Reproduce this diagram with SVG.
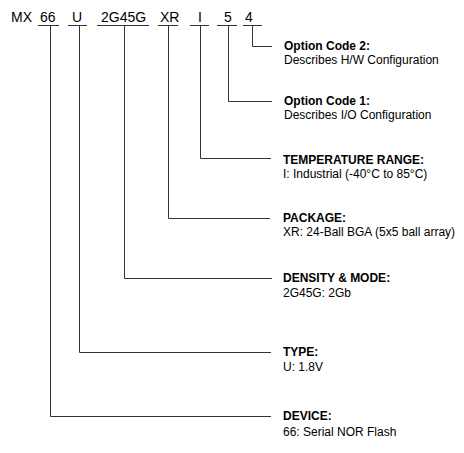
<svg xmlns="http://www.w3.org/2000/svg" width="464" height="453" viewBox="0 0 464 453">
<style>
.code{font-family:"Liberation Sans",Arial,sans-serif;font-size:14px;fill:#000}
.t{font-family:"Liberation Sans",Arial,sans-serif;font-size:12px;font-weight:bold;fill:#000}
.d{font-family:"Liberation Sans",Arial,sans-serif;font-size:12px;fill:#000}
.ln{fill:none;stroke:#333;stroke-width:1}
</style>
<rect width="464" height="453" fill="#fff"/>
<g id="code">
<text class="code" x="11" y="22">MX</text>
<text class="code" x="40" y="22">66</text>
<text class="code" x="72" y="22">U</text>
<text class="code" x="101" y="22">2G45G</text>
<text class="code" x="160" y="22">XR</text>
<text class="code" x="198" y="22">I</text>
<text class="code" x="224" y="22">5</text>
<text class="code" x="245" y="22">4</text>
</g>
<g id="connectors" class="ln">
<path d="M38 25.5H59M68 25.5H87M97 25.5H149M158 25.5H178M190 25.5H209M217 25.5H237M243 25.5H262"/>
<path d="M252.5 25.5V46.5H272"/>
<path d="M228.5 25.5V101.5H272"/>
<path d="M200.5 25.5V158.5H271"/>
<path d="M168.5 25.5V218.5H270"/>
<path d="M124.5 25.5V278.5H272"/>
<path d="M79.5 25.5V352.5H271"/>
<path d="M50.5 25.5V416.5H271"/>
</g>
<g id="opt2"><text class="t" x="284" y="50">Option Code 2:</text><text class="d" x="284" y="64">Describes H/W Configuration</text></g>
<g id="opt1"><text class="t" x="284" y="105">Option Code 1:</text><text class="d" x="284" y="119">Describes I/O Configuration</text></g>
<g id="temp"><text class="t" x="283" y="164">TEMPERATURE RANGE:</text><text class="d" x="283" y="178">I: Industrial (-40°C to 85°C)</text></g>
<g id="package"><text class="t" x="283" y="222">PACKAGE:</text><text class="d" x="283" y="236">XR: 24-Ball BGA (5x5 ball array)</text></g>
<g id="density"><text class="t" x="283" y="282">DENSITY &amp; MODE:</text><text class="d" x="283" y="297">2G45G: 2Gb</text></g>
<g id="type"><text class="t" x="283" y="356">TYPE:</text><text class="d" x="283" y="371">U: 1.8V</text></g>
<g id="device"><text class="t" x="283" y="420">DEVICE:</text><text class="d" x="283" y="436">66: Serial NOR Flash</text></g>
</svg>
